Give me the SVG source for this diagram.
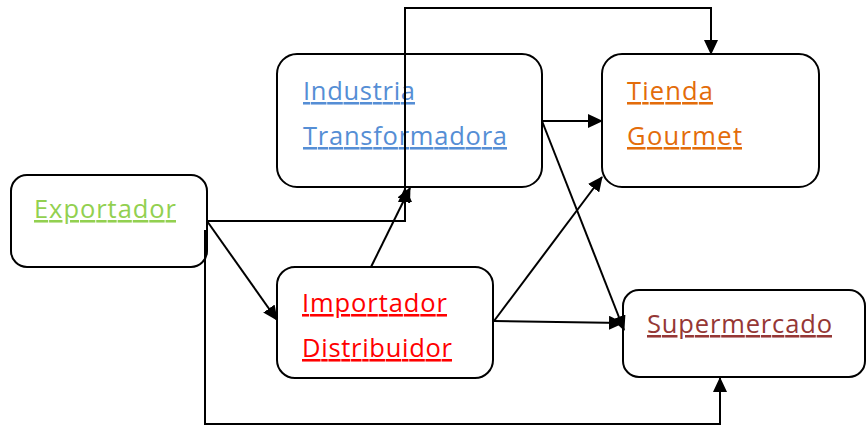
<svg xmlns="http://www.w3.org/2000/svg" width="866" height="425" viewBox="0 0 866 425">
  <style>
    .box { fill: #ffffff; stroke: #000000; stroke-width: 2; }
    .lbl { font-family: "Open Sans", "Liberation Sans", sans-serif; font-size: 25.5px; text-decoration: underline; text-decoration-thickness: 2px; }
    .conn { fill: none; stroke: #000000; stroke-width: 2; }
  </style>
  <defs>
    <marker id="arrow" markerUnits="userSpaceOnUse" markerWidth="15" markerHeight="14" refX="14" refY="7" orient="auto">
      <path d="M0,0 L15,7 L0,14 Z" fill="#000000"/>
    </marker>
  </defs>

  <rect width="866" height="425" fill="#ffffff"/>

  <!-- Nodes -->
  <g id="exportador">
    <rect class="box" x="11" y="175" width="196" height="92" rx="16"/>
    <text class="lbl" x="34" y="218" fill="#92D050" textLength="142">Exportador</text>
  </g>
  <g id="industria">
    <rect class="box" x="277" y="54" width="265" height="133" rx="20"/>
    <text class="lbl" x="303" y="100" fill="#558ED5" textLength="112">Industria</text>
    <text class="lbl" x="303" y="145" fill="#558ED5" textLength="204">Transformadora</text>
  </g>
  <g id="tienda">
    <rect class="box" x="602" y="54" width="217" height="133" rx="20"/>
    <text class="lbl" x="627" y="100" fill="#E36C0A" textLength="86">Tienda</text>
    <text class="lbl" x="627" y="145" fill="#E36C0A" textLength="115">Gourmet</text>
  </g>
  <g id="importador">
    <rect class="box" x="277" y="267" width="216" height="111" rx="18"/>
    <text class="lbl" x="302" y="312" fill="#FF0000" textLength="145">Importador</text>
    <text class="lbl" x="302" y="357" fill="#FF0000" textLength="150">Distribuidor</text>
  </g>
  <g id="supermercado">
    <rect class="box" x="623" y="290" width="242" height="87" rx="16"/>
    <text class="lbl" x="647" y="333" fill="#953735" textLength="185">Supermercado</text>
  </g>

  <!-- Connectors -->
  <g id="connectors">
    <!-- Exportador to Industria (elbow up into bottom edge) -->
    <polyline class="conn" points="207,221 405,221 405,188" marker-end="url(#arrow)"/>
    <!-- Exportador to Tienda over the top -->
    <polyline class="conn" points="405,221 405,8 711,8 711,54" marker-end="url(#arrow)"/>
    <!-- Exportador to Importador -->
    <line class="conn" x1="207" y1="221" x2="277" y2="320" marker-end="url(#arrow)"/>
    <!-- Exportador to Supermercado along the bottom -->
    <polyline class="conn" points="205,230 205,424 720,424 720,378" marker-end="url(#arrow)"/>
    <!-- Importador to Industria -->
    <line class="conn" x1="371" y1="267" x2="410" y2="188" marker-end="url(#arrow)"/>
    <!-- Industria to Tienda -->
    <line class="conn" x1="542" y1="121" x2="602" y2="121" marker-end="url(#arrow)"/>
    <!-- Industria to Supermercado -->
    <line class="conn" x1="542" y1="121" x2="624" y2="330" marker-end="url(#arrow)"/>
    <!-- Importador to Tienda -->
    <line class="conn" x1="494" y1="321" x2="602" y2="177" marker-end="url(#arrow)"/>
    <!-- Importador to Supermercado -->
    <line class="conn" x1="494" y1="321" x2="623" y2="323" marker-end="url(#arrow)"/>
  </g>
</svg>
